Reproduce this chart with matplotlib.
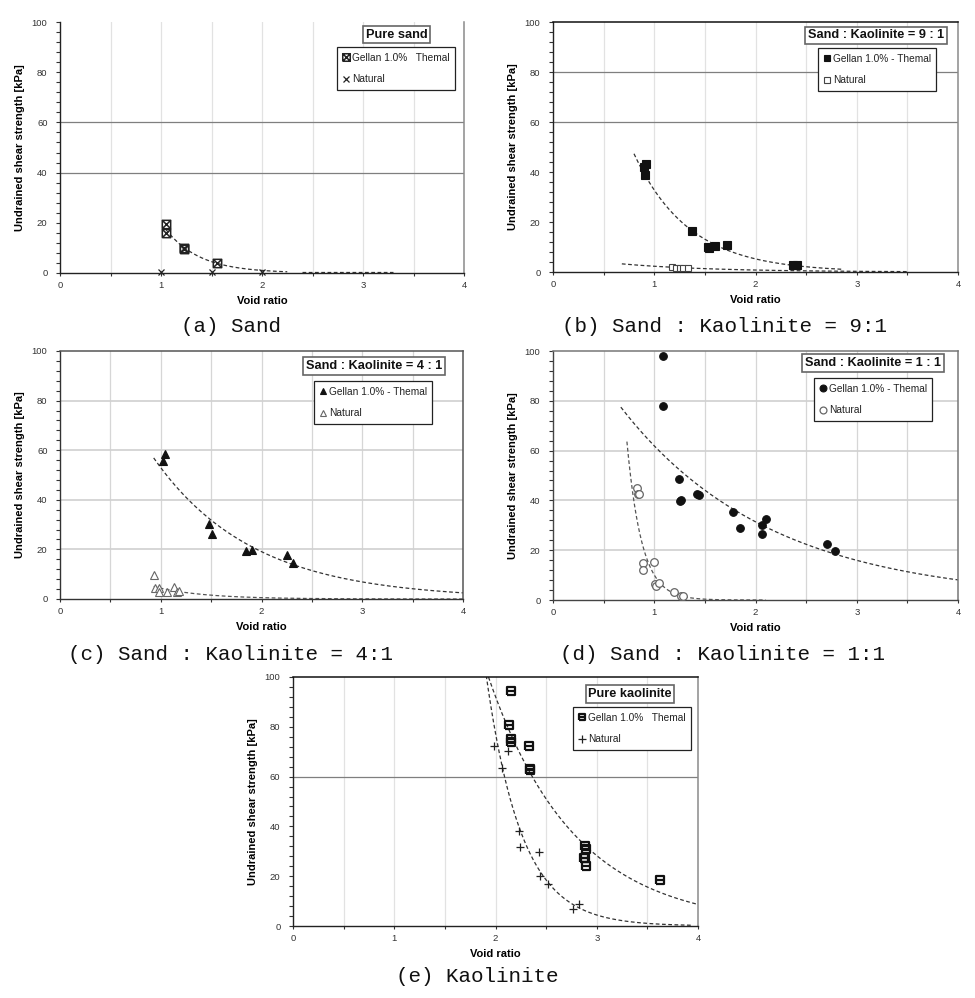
import numpy as np
import matplotlib
matplotlib.use("Agg")
import matplotlib.pyplot as plt
from matplotlib.path import Path
from matplotlib.ticker import MultipleLocator

plt.rcParams['font.family'] = ['Liberation Sans', 'DejaVu Sans']

W, H = 975, 998

# ---------------- data (void ratio, undrained shear strength kPa) -------------
# (a) pure sand
a_gel_x = [1.05, 1.05, 1.23, 1.23, 1.55]
a_gel_y = [19.5, 16.0, 10.0, 9.5, 4.0]
a_nat_x = [1.00, 1.50, 2.00]
a_nat_y = [0.2, 0.2, 0.2]

# (b) sand : kaolinite = 9 : 1
b_gel_x = [0.90, 0.923, 0.913, 1.372, 1.527, 1.54, 1.60, 1.72, 2.37, 2.41]
b_gel_y = [41.9, 43.3, 38.9, 16.3, 10.0, 9.6, 10.3, 10.9, 2.7, 2.7]
b_nat_x = [1.18, 1.21, 1.25, 1.28, 1.33]
b_nat_y = [1.9, 1.8, 1.8, 1.7, 1.6]

# (c) sand : kaolinite = 4 : 1
c_gel_x = [1.041, 1.025, 1.48, 1.51, 1.845, 1.91, 2.25, 2.31]
c_gel_y = [58.4, 55.8, 30.2, 26.4, 19.4, 19.8, 17.8, 14.5]
c_nat_x = [0.935, 0.94, 0.98, 0.985, 1.065, 1.134, 1.157, 1.18]
c_nat_y = [9.5, 4.4, 4.4, 2.7, 2.7, 4.8, 2.7, 3.4]

# (d) sand : kaolinite = 1 : 1
d_gel_x = [1.088, 1.082, 1.243, 1.256, 1.262, 1.418, 1.441, 1.781, 1.843,
           2.061, 2.061, 2.104, 2.704, 2.783]
d_gel_y = [98.1, 77.9, 48.5, 39.8, 40.3, 42.4, 42.1, 35.4, 28.9,
           30.3, 26.6, 32.6, 22.6, 19.5]
d_nat_x = [0.834, 0.841, 0.848, 0.884, 0.89, 1.0, 1.01, 1.02, 1.05, 1.197, 1.26, 1.28]
d_nat_y = [45.1, 42.4, 42.6, 14.7, 12.0, 15.1, 6.3, 5.6, 6.7, 3.3, 1.7, 1.7]

# (e) pure kaolinite
e_gel_x = [2.15, 2.137, 2.15, 2.15, 2.334, 2.341, 2.345, 2.884, 2.89, 2.884, 2.87, 2.897, 3.62]
e_gel_y = [94.5, 80.9, 75.1, 74.0, 72.4, 63.1, 62.5, 32.3, 31.0, 27.3, 27.3, 24.2, 18.6]
e_nat_x = [1.99, 2.12, 2.067, 2.23, 2.24, 2.43, 2.44, 2.52, 2.82, 2.77]
e_nat_y = [72.2, 70.4, 63.5, 38.3, 31.7, 29.9, 20.2, 16.9, 8.7, 6.8]

titles = ["Pure sand", "Sand : Kaolinite = 9 : 1", "Sand : Kaolinite = 4 : 1",
          "Sand : Kaolinite = 1 : 1", "Pure kaolinite"]
captions = ["(a) Sand", "(b) Sand : Kaolinite = 9:1", "(c) Sand : Kaolinite = 4:1",
            "(d) Sand : Kaolinite = 1:1", "(e) Kaolinite"]
gel_labels = ["Gellan 1.0%   Themal", "Gellan 1.0% - Themal", "Gellan 1.0% - Themal",
              "Gellan 1.0% - Themal", "Gellan 1.0%   Themal"]
nat_label = "Natural"
x_label = "Void ratio"
y_label = "Undrained shear strength [kPa]"

# ---------------- markers ----------------
boxx = Path([(-1, -1), (1, -1), (1, 1), (-1, 1), (-1, -1), (-1, -1), (1, 1), (-1, 1), (1, -1)],
            [Path.MOVETO, Path.LINETO, Path.LINETO, Path.LINETO, Path.LINETO,
             Path.MOVETO, Path.LINETO, Path.MOVETO, Path.LINETO])
boxh = Path([(-1, -1), (1, -1), (1, 1), (-1, 1), (-1, -1), (-1, 0), (1, 0)],
            [Path.MOVETO, Path.LINETO, Path.LINETO, Path.LINETO, Path.LINETO,
             Path.MOVETO, Path.LINETO])

panels = [
    dict(gx=a_gel_x, gy=a_gel_y, nx=a_nat_x, ny=a_nat_y,
         gm=dict(marker=boxx, ms=6, mfc='none', mec='#222222', mew=1.1),
         nm=dict(marker='x', ms=4.5, mfc='none', mec='#222222', mew=0.9),
         gr=(1.05, 2.25), nr=(2.4, 3.3),
         box=(60, 464, 22, 273), hl=[40, 60], hlc='#7f7f7f', hlw=0.9,
         spines=dict(top=None, right='#8a8a8a', left='#222222', bottom='#222222'),
         tbox=(396.5, 34.5), lbox=(337, 47), cap=(231, 327)),
    dict(gx=b_gel_x, gy=b_gel_y, nx=b_nat_x, ny=b_nat_y,
         gm=dict(marker='s', ms=5.5, mfc='#111111', mec='#111111', mew=0.8),
         nm=dict(marker='s', ms=5, mfc='white', mec='#444444', mew=0.8),
         gr=(0.80, 2.85), nr=(0.68, 3.5),
         box=(553, 958, 22, 272), hl=[60, 80], hlc='#7f7f7f', hlw=0.9,
         spines=dict(top='#111111', right='#8a8a8a', left='#222222', bottom='#222222'),
         tbox=(876, 35.5), lbox=(818, 48), cap=(724, 327)),
    dict(gx=c_gel_x, gy=c_gel_y, nx=c_nat_x, ny=c_nat_y,
         gm=dict(marker='^', ms=5.5, mfc='#111111', mec='#111111', mew=0.8),
         nm=dict(marker='^', ms=5.5, mfc='white', mec='#666666', mew=0.8),
         gr=(0.93, 4.0), nr=(0.93, 4.0),
         box=(60, 463, 351, 599), hl=[20, 40, 60, 80], hlc='#d0d0d0', hlw=1.2,
         spines=dict(top='#555555', right='#555555', left='#333333', bottom='#333333'),
         tbox=(374, 366), lbox=(314, 381), cap=(231, 655)),
    dict(gx=d_gel_x, gy=d_gel_y, nx=d_nat_x, ny=d_nat_y,
         gm=dict(marker='o', ms=5.5, mfc='#111111', mec='#111111', mew=0.8),
         nm=dict(marker='o', ms=5.5, mfc='white', mec='#666666', mew=0.9),
         gr=(0.67, 4.0), nr=(0.73, 2.1),
         box=(553, 958, 351, 600), hl=[20, 40, 60, 80], hlc='#d0d0d0', hlw=1.2,
         spines=dict(top='#777777', right='#777777', left='#444444', bottom='#444444'),
         tbox=(873, 363), lbox=(814, 378), cap=(723, 655)),
    dict(gx=e_gel_x, gy=e_gel_y, nx=e_nat_x, ny=e_nat_y,
         gm=dict(marker=boxh, ms=5.5, mfc='none', mec='#111111', mew=1.6),
         nm=dict(marker='+', ms=6, mfc='none', mec='#222222', mew=0.9),
         gr=(1.8, 4.0), nr=(1.9, 3.95),
         box=(293, 698, 677, 926), hl=[60], hlc='#7f7f7f', hlw=0.9,
         spines=dict(top='#111111', right='#8a8a8a', left='#222222', bottom='#222222'),
         tbox=(630, 694), lbox=(573, 707), cap=(477, 977)),
]


def exp_trend(x, y, x0, x1):
    b, lna = np.polyfit(np.asarray(x), np.log(np.asarray(y)), 1)
    xs = np.linspace(x0, x1, 300)
    return xs, np.exp(lna + b * xs)


fig = plt.figure(figsize=(W / 100, H / 100), dpi=100)

for i, p in enumerate(panels):
    L, R, T, B = p['box']
    ax = fig.add_axes([L / W, 1 - B / H, (R - L) / W, (B - T) / H])
    ax.set_xlim(0, 4)
    ax.set_ylim(0, 100)
    ax.xaxis.set_major_locator(MultipleLocator(1))
    ax.xaxis.set_minor_locator(MultipleLocator(0.5))
    ax.yaxis.set_major_locator(MultipleLocator(20))
    ax.yaxis.set_minor_locator(MultipleLocator(4))
    ax.tick_params(axis='both', which='both', direction='out', length=3, width=0.8,
                   color='#333333', labelsize=6.8, labelcolor='#333333')
    ax.tick_params(axis='y', which='major', pad=6)
    ax.tick_params(axis='x', which='major', pad=4, length=2)
    ax.tick_params(axis='x', which='minor', length=2)

    # vertical light grid
    for xv in np.arange(0.5, 4.0, 0.5):
        ax.axvline(xv, color='#e2e2e2' if i not in (2, 3) else '#d6d6d6', lw=0.9, zorder=0)
    for yv in p['hl']:
        ax.axhline(yv, color=p['hlc'], lw=p['hlw'], zorder=0.5)

    for side, col in p['spines'].items():
        if col is None:
            ax.spines[side].set_visible(False)
        else:
            ax.spines[side].set_color(col)
            ax.spines[side].set_linewidth(1.0 if side in ('left', 'bottom') else 1.1)

    # trendlines
    xs, ys = exp_trend(p['gx'], p['gy'], *p['gr'])
    ax.plot(xs, ys, ls=(0, (3, 2)), color='#333333', lw=0.9, zorder=2)
    xs, ys = exp_trend(p['nx'], p['ny'], *p['nr'])
    ax.plot(xs, ys, ls=(0, (3, 2)), color='#555555' if i in (2, 3) else '#333333',
            lw=0.9, zorder=2)

    h1, = ax.plot(p['gx'], p['gy'], ls='none', label=gel_labels[i], zorder=4, **p['gm'])
    h2, = ax.plot(p['nx'], p['ny'], ls='none', label=nat_label, zorder=3,
                  clip_on=False, **p['nm'])

    ax.set_xlabel(x_label, fontsize=8, fontweight='bold', labelpad=4)
    ax.set_ylabel(y_label, fontsize=8, fontweight='bold', labelpad=5)

    # title box
    tx, ty = p['tbox']
    fig.text(tx / W, 1 - ty / H, titles[i], ha='center', va='center', fontsize=9.2,
             fontweight='bold', color='#111111',
             bbox=dict(boxstyle='square,pad=0.2', fc='white', ec='#666666', lw=1.2))

    # legend
    lx, ly = p['lbox']
    leg = ax.legend(handles=[h1, h2], loc='upper left',
                    bbox_to_anchor=(lx / W, 1 - ly / H), bbox_transform=fig.transFigure,
                    borderaxespad=0, fontsize=7.3, frameon=True, fancybox=False,
                    edgecolor='#222222', framealpha=1, handlelength=0.6,
                    handletextpad=0.3, labelspacing=1.15, borderpad=0.55, markerscale=0.9)
    leg.get_frame().set_linewidth(0.9)
    for t in leg.get_texts():
        t.set_color('#222222')

    cx, cy = p['cap']
    fig.text(cx / W, 1 - cy / H, captions[i], ha='center', va='center', fontsize=15,
             family=['Liberation Mono', 'DejaVu Sans Mono'], color='#111111')

fig.savefig("out.png", dpi=100)
